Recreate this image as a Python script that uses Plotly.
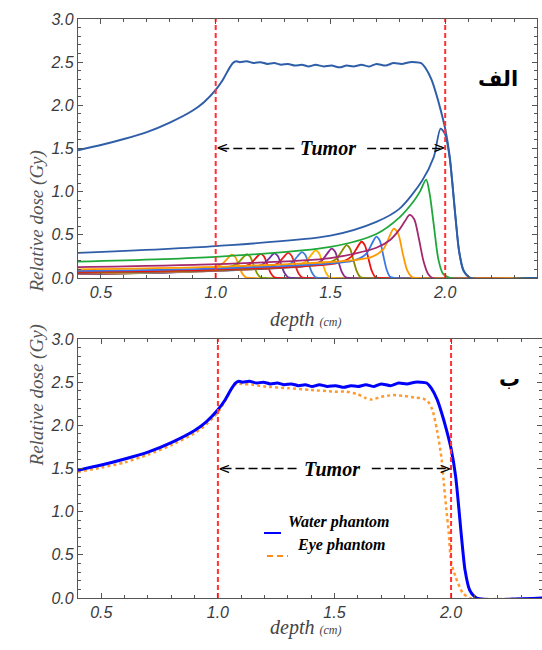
import plotly.graph_objects as go

# ---------------- data ----------------
depth_water = [0.4, 0.5, 0.6, 0.7, 0.8, 0.9, 0.95, 1.0, 1.03, 1.055, 1.075, 1.09, 1.105, 1.135,
               1.165, 1.195, 1.225, 1.255, 1.285, 1.315, 1.345, 1.375, 1.405, 1.435, 1.47,
               1.505, 1.54, 1.57, 1.60, 1.635, 1.67, 1.70, 1.74, 1.775, 1.81, 1.845, 1.87,
               1.895, 1.915, 1.94, 1.96, 1.98, 2.0, 2.02, 2.045, 2.06, 2.08, 2.11, 2.4]
dose_water = [1.48, 1.54, 1.61, 1.69, 1.80, 1.94, 2.04, 2.18, 2.29, 2.41, 2.49, 2.51, 2.50, 2.51,
              2.49, 2.50, 2.48, 2.49, 2.47, 2.48, 2.46, 2.47, 2.45, 2.47, 2.45,
              2.46, 2.44, 2.46, 2.45, 2.47, 2.45, 2.48, 2.46, 2.49, 2.48, 2.50, 2.50,
              2.49, 2.43, 2.30, 2.14, 1.95, 1.73, 1.40, 0.70, 0.32, 0.09, 0.0, 0.0]

depth_eye = [0.4, 0.5, 0.6, 0.7, 0.8, 0.9, 0.95, 1.0, 1.03, 1.06, 1.08, 1.1, 1.15, 1.2, 1.3, 1.4,
             1.5, 1.55, 1.6, 1.63, 1.66, 1.7, 1.75, 1.8, 1.85, 1.88, 1.9, 1.92, 1.94, 1.96,
             1.97, 1.98, 1.99, 2.0, 2.02, 2.05, 2.08, 2.4]
dose_eye = [1.46, 1.51, 1.57, 1.66, 1.77, 1.91, 2.01, 2.15, 2.28, 2.43, 2.48, 2.48, 2.47, 2.45, 2.43, 2.41,
            2.39, 2.39, 2.36, 2.32, 2.30, 2.33, 2.35, 2.34, 2.32, 2.31, 2.28, 2.18, 1.94, 1.60,
            1.30, 1.02, 0.76, 0.42, 0.24, 0.06, 0.0, 0.0]

# individual (pristine) Bragg peaks, shallowest first
bragg_depths = [
    [0.4, 0.735, 0.97, 1.025, 1.05, 1.07, 1.085, 1.10, 1.115, 1.13, 1.15, 2.4],
    [0.4, 0.77, 1.035, 1.09, 1.115, 1.135, 1.15, 1.165, 1.18, 1.195, 1.215, 2.4],
    [0.4, 0.8, 1.095, 1.15, 1.175, 1.195, 1.21, 1.225, 1.24, 1.255, 1.275, 2.4],
    [0.4, 0.83, 1.155, 1.21, 1.235, 1.255, 1.27, 1.285, 1.30, 1.315, 1.335, 2.4],
    [0.4, 0.86, 1.215, 1.27, 1.295, 1.315, 1.33, 1.345, 1.36, 1.375, 1.395, 2.4],
    [0.4, 0.89, 1.275, 1.33, 1.355, 1.375, 1.39, 1.405, 1.42, 1.435, 1.455, 2.4],
    [0.4, 0.92, 1.335, 1.39, 1.415, 1.435, 1.45, 1.465, 1.48, 1.495, 1.515, 2.4],
    [0.4, 0.95, 1.405, 1.46, 1.485, 1.505, 1.52, 1.535, 1.55, 1.565, 1.585, 2.4],
    [0.4, 0.985, 1.47, 1.525, 1.55, 1.57, 1.585, 1.60, 1.615, 1.63, 1.65, 2.4],
    [0.4, 1.02, 1.535, 1.59, 1.615, 1.635, 1.65, 1.665, 1.68, 1.695, 1.715, 2.4],
    [0.4, 1.05, 1.60, 1.655, 1.68, 1.70, 1.715, 1.73, 1.745, 1.76, 1.78, 2.4],
    [0.4, 1.09, 1.675, 1.73, 1.755, 1.775, 1.795, 1.815, 1.835, 1.855, 1.875, 2.4],
    [0.4, 1.0, 1.5, 1.7, 1.76, 1.80, 1.825, 1.845, 1.865, 1.885, 1.905, 1.925, 1.945, 2.4],
    [0.4, 1.0, 1.5, 1.7, 1.8, 1.86, 1.89, 1.917, 1.932, 1.95, 1.97, 1.99, 2.02, 2.4],
    [0.4, 1.0, 1.5, 1.7, 1.8, 1.9, 1.95, 1.98, 2.0, 2.02, 2.045, 2.06, 2.08, 2.11, 2.4],
]
bragg_doses = [
    [0.046, 0.065, 0.113, 0.157, 0.221, 0.27, 0.243, 0.149, 0.054, 0.008, 0.0, 0.0],
    [0.047, 0.066, 0.116, 0.160, 0.226, 0.275, 0.248, 0.151, 0.055, 0.008, 0.0, 0.0],
    [0.048, 0.067, 0.118, 0.162, 0.230, 0.28, 0.252, 0.154, 0.056, 0.008, 0.0, 0.0],
    [0.048, 0.068, 0.120, 0.165, 0.234, 0.285, 0.257, 0.157, 0.057, 0.009, 0.0, 0.0],
    [0.049, 0.070, 0.122, 0.168, 0.238, 0.29, 0.261, 0.160, 0.058, 0.009, 0.0, 0.0],
    [0.051, 0.072, 0.126, 0.174, 0.246, 0.30, 0.27, 0.165, 0.06, 0.009, 0.0, 0.0],
    [0.054, 0.077, 0.134, 0.186, 0.262, 0.32, 0.288, 0.176, 0.064, 0.01, 0.0, 0.0],
    [0.058, 0.082, 0.143, 0.197, 0.279, 0.34, 0.306, 0.187, 0.068, 0.01, 0.0, 0.0],
    [0.065, 0.091, 0.160, 0.220, 0.312, 0.38, 0.342, 0.209, 0.076, 0.011, 0.0, 0.0],
    [0.071, 0.101, 0.176, 0.244, 0.344, 0.42, 0.378, 0.231, 0.084, 0.013, 0.0, 0.0],
    [0.082, 0.115, 0.202, 0.278, 0.394, 0.48, 0.432, 0.264, 0.096, 0.014, 0.0, 0.0],
    [0.10, 0.137, 0.239, 0.331, 0.467, 0.57, 0.513, 0.285, 0.086, 0.011, 0.0, 0.0],
    [0.125, 0.16, 0.23, 0.35, 0.44, 0.56, 0.66, 0.73, 0.68, 0.46, 0.2, 0.05, 0.0, 0.0],
    [0.19, 0.245, 0.36, 0.51, 0.70, 0.88, 1.0, 1.14, 0.98, 0.62, 0.22, 0.05, 0.0, 0.0],
    [0.29, 0.37, 0.49, 0.65, 0.80, 1.13, 1.40, 1.73, 1.66, 1.38, 0.70, 0.32, 0.08, 0.0, 0.0],
]
bragg_colors = ["#ff9900", "#7f9f00", "#ee1111", "#7030a0", "#e82020", "#3f7fd8", "#ffb300",
                "#8a2a8a", "#8a8a00", "#ee1111", "#3b78e7", "#ff9900", "#a3286e", "#1fa83a",
                "#2f5ea8"]

tumor_start = 1.0
tumor_end = 2.0
dose_min, dose_max = 0.0, 3.0
arrow_level = 1.5
arrow_left_seg = [1.02, 1.35]
arrow_right_seg = [1.66, 1.98]
tumor_label_x = 1.49

legend_names = ["Water phantom", "Eye phantom"]
panel_labels = ["الف", "ب"]

# ---------------- figure ----------------
fig = go.Figure()

for xs, ys, c in zip(bragg_depths, bragg_doses, bragg_colors):
    fig.add_trace(go.Scatter(x=xs, y=ys, mode="lines", line=dict(color=c, width=1.8, shape="spline", smoothing=0.8),
                             xaxis="x", yaxis="y", showlegend=False, hoverinfo="skip"))

fig.add_trace(go.Scatter(x=depth_water, y=dose_water, mode="lines",
                         line=dict(color="#2f5ea8", width=2, shape="spline", smoothing=0.6),
                         xaxis="x", yaxis="y", showlegend=False))

# bottom panel
fig.add_trace(go.Scatter(x=depth_eye, y=dose_eye, mode="lines", name=legend_names[1],
                         line=dict(color="#ff9a2e", width=2.5, dash="dot", shape="spline", smoothing=0.6),
                         xaxis="x2", yaxis="y2", showlegend=False))
fig.add_trace(go.Scatter(x=depth_water, y=dose_water, mode="lines", name=legend_names[0],
                         line=dict(color="#0000ff", width=3, shape="spline", smoothing=0.6),
                         xaxis="x2", yaxis="y2", showlegend=False))

for xa, ya in (("x", "y"), ("x2", "y2")):
    for xv in (tumor_start, tumor_end):
        fig.add_trace(go.Scatter(x=[xv, xv], y=[dose_min, dose_max], mode="lines",
                                 line=dict(color="#ff3333", width=2, dash="5px,3px"),
                                 xaxis=xa, yaxis=ya, showlegend=False, hoverinfo="skip"))
    for seg in (arrow_left_seg, arrow_right_seg):
        fig.add_trace(go.Scatter(x=seg, y=[arrow_level, arrow_level], mode="lines",
                                 line=dict(color="black", width=1.5, dash="9px,4px"),
                                 xaxis=xa, yaxis=ya, showlegend=False, hoverinfo="skip"))
    fig.add_annotation(x=tumor_label_x, y=arrow_level, xref=xa, yref=ya, text="Tumor", showarrow=False,
                       font=dict(family="Liberation Serif", size=20, color="black", weight="bold", style="italic"))
    fig.add_annotation(x=tumor_start, y=arrow_level, xref=xa, yref=ya, text="<", showarrow=False,
                       xanchor="left", xshift=-2,
                       font=dict(family="DejaVu Sans", size=15, color="black"))
    fig.add_annotation(x=tumor_end, y=arrow_level, xref=xa, yref=ya, text=">", showarrow=False,
                       xanchor="right", xshift=3,
                       font=dict(family="DejaVu Sans", size=15, color="black"))

axis_common = dict(showline=True, linecolor="#555555", linewidth=1.2, mirror="ticks",
                   ticks="inside", ticklen=5, tickwidth=1, tickcolor="#555555", automargin=False,
                   dtick=0.5, tick0=0, tickformat=".1f", showgrid=False, zeroline=False,
                   minor=dict(dtick=0.1, ticks="inside", ticklen=3, tickcolor="#555555", showgrid=False),
                   tickfont=dict(family="Liberation Sans", size=16, color="#3a3a3a", style="italic"))

fig.update_layout(
    width=542, height=650,
    margin=dict(l=78, r=0, t=19, b=52, autoexpand=False),
    paper_bgcolor="white", plot_bgcolor="white",
    xaxis=dict(domain=[0, 0.9892], range=[0.4, 2.4], anchor="y", **axis_common),
    yaxis=dict(domain=[0.5527, 1.0], range=[0, 3.0], anchor="x", **axis_common),
    xaxis2=dict(domain=[0, 1.0], range=[0.4, 2.39], anchor="y2", **axis_common),
    yaxis2=dict(domain=[0, 0.4473], range=[0, 3.0], anchor="x2", **axis_common),
    showlegend=False,
)

title_font = dict(family="Liberation Serif", size=19, color="#555555", style="italic")
for yp in (0.7763, 0.2237):
    fig.add_annotation(x=-0.1164, y=yp, xref="paper", yref="paper", text="Relative dose (Gy)",
                       textangle=-90, showarrow=False, font=title_font)
for yp in (0.4805, -0.0745):
    fig.add_annotation(x=0.49, y=yp, xref="paper", yref="paper",
                       text="depth <span style='font-size:12px'>(cm)</span>",
                       showarrow=False, font=dict(family="Liberation Serif", size=20, color="#444444", style="italic"))

fig.add_annotation(x=0.952, y=0.921, xref="paper", yref="paper", text=panel_labels[0], showarrow=False,
                   font=dict(family="DejaVu Sans", size=21, color="black", weight="bold"))
fig.add_annotation(x=0.956, y=0.378, xref="paper", yref="paper", text=panel_labels[1], showarrow=False,
                   font=dict(family="DejaVu Sans", size=21, color="black", weight="bold"))

# legend (bottom panel)
leg_font = dict(family="Liberation Serif", size=16, color="black", weight="bold", style="italic")
fig.add_shape(type="line", xref="paper", yref="paper", x0=0.4009, x1=0.4375, y0=0.1123, y1=0.1123,
              line=dict(color="#0000ff", width=2))
fig.add_annotation(x=0.4483, y=0.1123, xref="paper", yref="paper", text=legend_names[0], xanchor="left",
                   showarrow=False, font=leg_font)
fig.add_shape(type="line", xref="paper", yref="paper", x0=0.4073, x1=0.4526, y0=0.0725, y1=0.0725,
              line=dict(color="#ff8c1a", width=2, dash="6px,4px"))
fig.add_annotation(x=0.4677, y=0.0725, xref="paper", yref="paper", text=legend_names[1], xanchor="left",
                   showarrow=False, font=leg_font)

fig.write_html("out.html", config={"displayModeBar": False},
               post_script="document.body.style.margin='0';document.body.style.overflow='hidden';")
